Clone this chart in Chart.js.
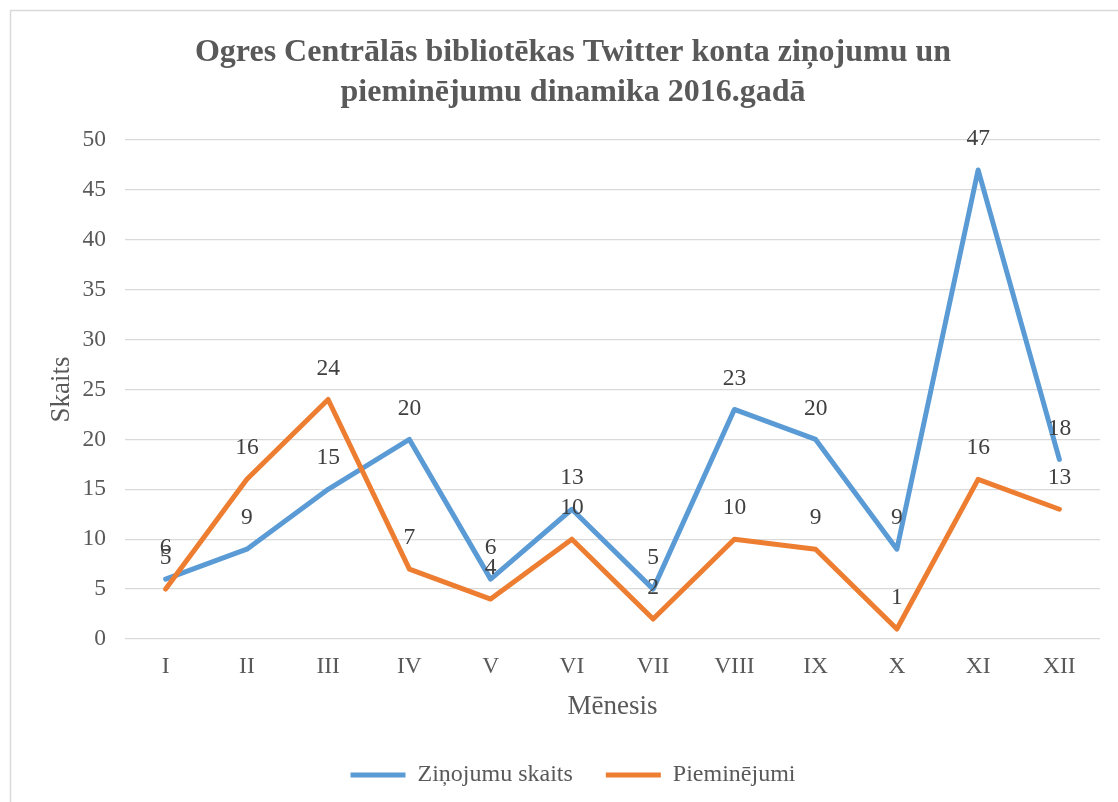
<html lang="lv">
<head>
<meta charset="utf-8">
<style>
  body { margin: 0; background: #fff; }
</style>
</head>
<body>
<div>
    <canvas id="myChart" width="1118" height="802"></canvas>
</div>

<script src="https://cdn.jsdelivr.net/npm/chart.js"></script>

<script>
    const months = ['I', 'II', 'III', 'IV', 'V', 'VI', 'VII', 'VIII', 'IX', 'X', 'XI', 'XII'];
    const zinojumi = [6, 9, 15, 20, 6, 13, 5, 23, 20, 9, 47, 18];
    const pieminejumi = [5, 16, 24, 7, 4, 10, 2, 10, 9, 1, 16, 13];
    const titleLines = ['Ogres Centrālās bibliotēkas Twitter konta ziņojumu un', 'pieminējumu dinamika 2016.gadā'];

    const serif = "'Liberation Serif', 'Times New Roman', serif";
    const grey = '#595959';

    // outer frame of the chart area
    const frame = {
        id: 'frame',
        beforeDraw(chart) {
            const c = chart.ctx;
            c.save();
            c.strokeStyle = '#d9d9d9';
            c.lineWidth = 1.5;
            c.strokeRect(10.5, 10.5, 1200, 900);
            c.restore();
        }
    };

    // value labels above points
    const valueLabels = {
        id: 'valueLabels',
        afterDatasetsDraw(chart) {
            const c = chart.ctx;
            c.save();
            c.font = '23.5px ' + serif;
            c.fillStyle = '#404040';
            c.textAlign = 'center';
            c.textBaseline = 'middle';
            chart.data.datasets.forEach((ds, i) => {
                chart.getDatasetMeta(i).data.forEach((pt, j) => {
                    c.fillText(ds.data[j], pt.x, pt.y - 31);
                });
            });
            c.restore();
        }
    };

    const ctx = document.getElementById('myChart');

    new Chart(ctx, {
        type: 'line',
        data: {
            labels: months,
            datasets: [{
                label: 'Ziņojumu skaits',
                data: zinojumi,
                borderColor: '#5b9bd5',
                backgroundColor: '#5b9bd5',
                borderWidth: 5,
                order: 1
            }, {
                label: 'Pieminējumi',
                data: pieminejumi,
                borderColor: '#ed7d31',
                backgroundColor: '#ed7d31',
                borderWidth: 5,
                order: 0
            }]
        },
        options: {
            responsive: false,
            animation: false,
            devicePixelRatio: 1,
            elements: {
                line: { tension: 0, borderCapStyle: 'round', borderJoinStyle: 'round' },
                point: { radius: 0, hoverRadius: 0 }
            },
            layout: { padding: { left: 46, right: 18, top: 0, bottom: 5 } },
            plugins: {
                title: {
                    display: true,
                    text: titleLines,
                    color: grey,
                    font: { family: serif, size: 32, weight: 'bold', lineHeight: 1.25 },
                    padding: { top: 33, bottom: 27 }
                },
                legend: {
                    position: 'bottom',
                    labels: {
                        color: grey,
                        font: { family: serif, size: 24 },
                        usePointStyle: true,
                        pointStyle: 'line',
                        pointStyleWidth: 55,
                        padding: 33,
                        sort: (a, b) => a.datasetIndex - b.datasetIndex
                    }
                },
                tooltip: { enabled: false }
            },
            scales: {
                x: {
                    offset: true,
                    grid: { display: false, drawTicks: false },
                    border: { display: false },
                    ticks: { color: grey, font: { family: serif, size: 23.5 }, padding: 14, maxRotation: 0 },
                    title: {
                        display: true,
                        text: 'Mēnesis',
                        color: grey,
                        font: { family: serif, size: 27 },
                        padding: { top: 9, bottom: 7 }
                    },
                    afterFit(scale) { scale.height = 91; }
                },
                y: {
                    min: 0,
                    max: 50,
                    ticks: { stepSize: 5, color: grey, font: { family: serif, size: 23.5 }, padding: 19 },
                    grid: { color: '#d9d9d9', lineWidth: 1.3, drawTicks: false },
                    border: { display: false },
                    title: {
                        display: true,
                        text: 'Skaits',
                        color: grey,
                        font: { family: serif, size: 27 },
                        padding: 0
                    },
                    afterFit(scale) { scale.width = 79; }
                }
            }
        },
        plugins: [frame, valueLabels]
    });
</script>
</body>
</html>
